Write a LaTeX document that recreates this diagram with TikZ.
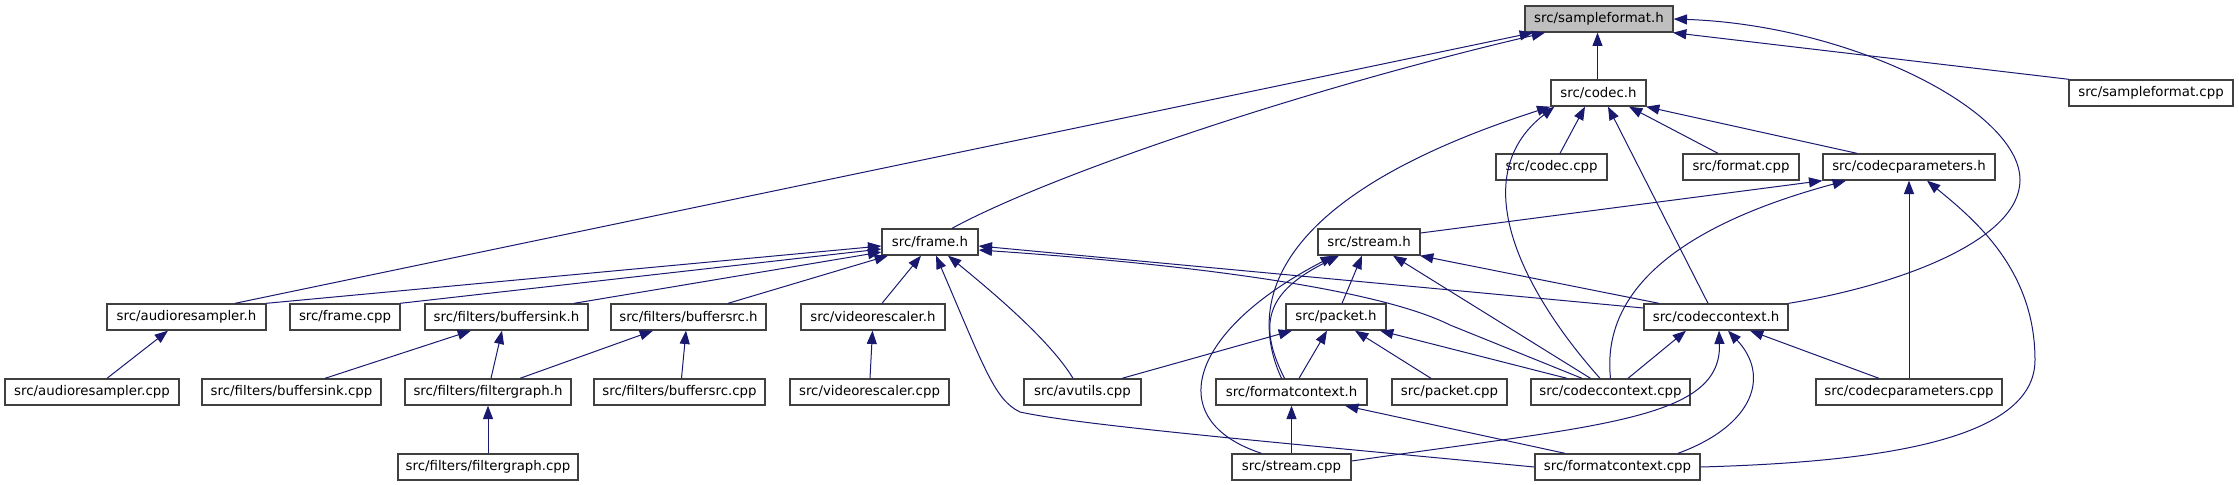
\documentclass[tikz,border=0pt]{standalone}
\usepackage{fontspec}
\setmainfont{DejaVu Sans}
\usetikzlibrary{arrows.meta,calc}
\definecolor{edgeblue}{RGB}{25,25,112}
\definecolor{nodeline}{RGB}{64,64,64}
\definecolor{rootgray}{RGB}{191,191,191}
\tikzset{
  % ---- files ------------------------------------------------------------
  fnode/.style={
    draw=nodeline, line width=1pt, fill=white, text=black,
    font=\fontsize{10}{12}\selectfont, inner sep=0pt,
    minimum width=#1*0.75pt, minimum height=19.5pt},
  % the file the graph is about
  fnoderoot/.style={fnode=#1, fill=rootgray},
  % ---- include edges ----------------------------------------------------
  inc/.style={-{Triangle[length=10pt,width=7.5pt]}, draw=edgeblue, line width=0.75pt},
}

\begin{document}
\begin{tikzpicture}[x=0.75pt,y=-0.75pt]
\path[use as bounding box, fill=white] (0,0) rectangle (2239,485);

% ============================ files, rank by rank ==========================
\node[fnoderoot=148] (sfh) at (1599,19) {src/sampleformat.h};

\node[fnode=95]  (codech) at (1598.5,93) {src/codec.h};
\node[fnode=164] (sfcpp)  at (2151,93)   {src/sampleformat.cpp};

\node[fnode=111] (codeccpp)  at (1551.5,167) {src/codec.cpp};
\node[fnode=116] (formatcpp) at (1741,167)   {src/format.cpp};
\node[fnode=172] (cparh)     at (1909,167)   {src/codecparameters.h};

\node[fnode=96]  (frameh)  at (930,242)  {src/frame.h};
\node[fnode=102] (streamh) at (1369,242) {src/stream.h};

\node[fnode=159] (arh)      at (186.5,317) {src/audioresampler.h};
\node[fnode=110] (framecpp) at (345,317)   {src/frame.cpp};
\node[fnode=163] (bsinkh)   at (506.5,317) {src/filters/buffersink.h};
\node[fnode=155] (bsrch)    at (688.5,317) {src/filters/buffersrc.h};
\node[fnode=144] (vrh)      at (873,317)   {src/videorescaler.h};
\node[fnode=100] (packeth)  at (1336,317)  {src/packet.h};
\node[fnode=144] (cctxh)    at (1716,317)  {src/codeccontext.h};

\node[fnode=174] (arcpp)     at (92,392)     {src/audioresampler.cpp};
\node[fnode=179] (bsinkcpp)  at (291.5,392)  {src/filters/buffersink.cpp};
\node[fnode=166] (fgh)       at (488,392)    {src/filters/filtergraph.h};
\node[fnode=171] (bsrccpp)   at (679.5,392)  {src/filters/buffersrc.cpp};
\node[fnode=159] (vrcpp)     at (869.5,392)  {src/videorescaler.cpp};
\node[fnode=117] (avucpp)    at (1082.5,392) {src/avutils.cpp};
\node[fnode=151] (fctxh)     at (1291.5,392) {src/formatcontext.h};
\node[fnode=115] (packetcpp) at (1449.5,392) {src/packet.cpp};
\node[fnode=159] (cctxcpp)   at (1610.5,392) {src/codeccontext.cpp};
\node[fnode=186] (cparcpp)   at (1909,392)   {src/codecparameters.cpp};

\node[fnode=180] (fgcpp)     at (488,467)    {src/filters/filtergraph.cpp};
\node[fnode=119] (streamcpp) at (1291.5,467) {src/stream.cpp};
\node[fnode=165] (fctxcpp)   at (1617.5,467) {src/formatcontext.cpp};

% ============================ straight includes ============================
\foreach \s/\sx/\t/\tx in {
    codech/-1/sfh/-1.5, sfcpp/-82/sfh/74, arh/48.5/sfh/-66,
    codeccpp/8.5/codech/-13.5, formatcpp/-23/codech/30.5,
    cparh/-52/codech/47.5, cctxh/-8/codech/9.5,
    cparcpp/0/cparh/0,
    bsrch/39.5/frameh/-42, vrh/9/frameh/-9,
    packeth/6/streamh/-7, cctxcpp/-20/streamh/24, cctxh/-57/streamh/51,
    avucpp/39.5/packeth/-44, fctxh/7.5/packeth/-9,
    packetcpp/-18.5/packeth/19, cctxcpp/-43.5/packeth/44,
    cctxcpp/17.5/cctxh/-30, cparcpp/-30/cctxh/34,
    streamcpp/0/fctxh/0, fctxcpp/-52.5/fctxh/53.5,
    arcpp/15/arh/-18.5,
    bsinkcpp/33.5/bsinkh/-35.5, fgh/3/bsinkh/-4.5,
    fgh/32/bsrch/-35.5, bsrccpp/2/bsrch/-2.5,
    vrcpp/0.5/vrh/-0.5, fgcpp/0/fgh/0}
  { \draw[inc] ($(\s.north)+(\sx,0)$) -- ($(\t.south)+(\tx,0)$); }

% into the left side of frame.h
\foreach \s/\sx/\dy in {arh/79.5/4, framecpp/55/7, bsinkh/67.5/10}
  { \draw[inc] ($(\s.north)+(\sx,0)$) -- ($(frameh.west)+(0,\dy)$); }

\draw[inc] ($(cctxh.west)+(0,-9)$) -- ($(frameh.east)+(0,4)$);
\draw[inc] ($(streamh.east)+(0,-9)$) -- (cparh.south west);

% ============================ curved includes ==============================
\draw[inc] ($(frameh.north)+(22,0)$) .. controls (1050,175) and (1300,90)
  .. ($(sfh.south)+(-54,0)$);
\draw[inc] (cctxh.north east) .. controls (1900,285) and (2020,240) .. (2020,180)
  .. controls (2020,110) and (1850,25) .. (sfh.east);

\draw[inc] ($(fctxh.north)+(-10,0)$) .. controls (1250,310) and (1260,200)
  .. (codech.south west);
\draw[inc] ($(cctxcpp.north)+(-10.5,0)$) .. controls (1530,300) and (1460,180)
  .. ($(codech.south west)+(4,0)$);

\draw[inc] (cctxcpp.north) .. controls (1600,280) and (1700,220)
  .. ($(cparh.south)+(-63,0)$);
\draw[inc] (fctxcpp.east) .. controls (1880,462) and (2035,440) .. (2035,360)
  .. controls (2035,270) and (1975,220) .. ($(cparh.south)+(18,0)$);

\draw[inc] ($(avucpp.north)+(-9.5,0)$) .. controls (1050,340) and (990,290)
  .. ($(frameh.south)+(18,0)$);
\draw[inc] (fctxcpp.west) .. controls (1250,440) and (1080,425) .. (1020,412)
  .. controls (995,400) and (985,370) .. ($(frameh.south)+(6,0)$);
\draw[inc] ($(cctxcpp.north)+(-28.5,0)$) -- (1450,325)
  .. controls (1380,290) and (1200,265) .. ($(frameh.east)+(0,8)$);

\draw[inc] ($(streamcpp.north)+(-30,0)$) .. controls (1160,420) and (1190,330)
  .. ($(streamh.south)+(-35,0)$);
\draw[inc] ($(fctxh.north)+(-7,0)$) .. controls (1255,320) and (1270,290)
  .. ($(streamh.south)+(-30,0)$);

\draw[inc] ($(streamcpp.east)+(0,-6)$) .. controls (1600,425) and (1722,420)
  .. ($(cctxh.south)+(3,0)$);
\draw[inc] ($(fctxcpp.north)+(60.5,0)$) .. controls (1755,425) and (1770,375)
  .. ($(cctxh.south)+(12,0)$);

\end{tikzpicture}
\end{document}
